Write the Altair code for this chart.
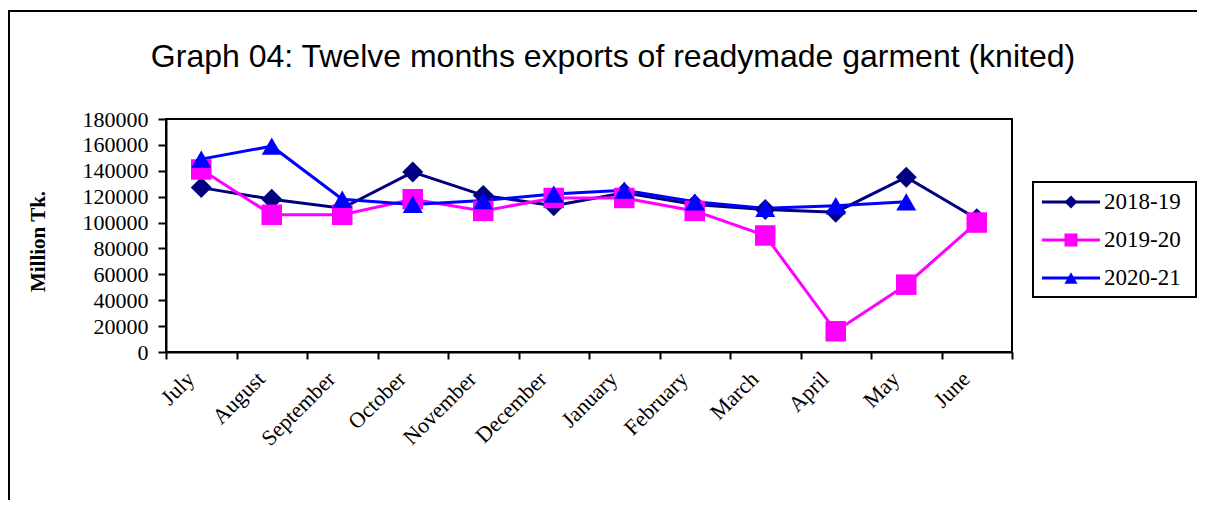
import altair as alt
import pandas as pd

# ---- data ----
months = ["July", "August", "September", "October", "November", "December",
          "January", "February", "March", "April", "May", "June"]
series_names = ["2018-19", "2019-20", "2020-21"]
v_2018_19 = [127000, 118000, 111000, 139000, 121000, 113000,
             123000, 114000, 110000, 108000, 135000, 103000]
v_2019_20 = [141000, 106000, 106000, 118000, 109000, 119000,
             119000, 109000, 90000, 16000, 52000, 100000]
v_2020_21 = [149000, 159000, 118000, 114000, 117000, 122000,
             125000, 116000, 111000, 113000, 116000, None]
y_ticks = [0, 20000, 40000, 60000, 80000, 100000, 120000, 140000, 160000, 180000]
title_text = "Graph 04: Twelve months exports of readymade garment (knited)"
y_title = "Million Tk."

colors = ["#000080", "#FF00FF", "#0000FF"]
shapes = ["diamond", "square", "triangle-up"]

rows = []
for name, vals in zip(series_names, [v_2018_19, v_2019_20, v_2020_21]):
    for m, v in zip(months, vals):
        if v is not None:
            rows.append({"month": m, "series": name, "value": v})
df = pd.DataFrame(rows)
leg_df = pd.DataFrame({"series": series_names})

SERIF = "Liberation Serif"
SANS = "Liberation Sans"

color_enc = alt.Color("series:N", scale=alt.Scale(domain=series_names, range=colors), legend=None)
shape_enc = alt.Shape("series:N", scale=alt.Scale(domain=series_names, range=shapes), legend=None)

x_enc = alt.X(
    "month:N", sort=months,
    scale=alt.Scale(type="band", domain=months, paddingInner=0, paddingOuter=0),
    axis=alt.Axis(title=None, labelAngle=-45, labelAlign="right", labelBaseline="middle",
                  labelFont=SERIF, labelFontSize=22, labelColor="black",
                  labelPadding=16, labelOffset=-11,
                  tickBand="extent", tickSize=7, tickWidth=2, tickColor="black",
                  domainColor="black", domainWidth=2, grid=False),
)
y_enc = alt.Y(
    "value:Q",
    scale=alt.Scale(domain=[0, 180000], nice=False),
    axis=alt.Axis(values=y_ticks, format="d", labelFont=SERIF, labelFontSize=22,
                  labelColor="black", labelPadding=10, tickSize=8, tickWidth=2,
                  tickColor="black", domainColor="black", domainWidth=2, grid=False,
                  title=y_title, titleFont=SERIF, titleFontSize=21, titleFontWeight="bold",
                  titleColor="black", titleAngle=-90, titleX=-128, titleY=122,
                  titleAlign="center", titleBaseline="middle"),
)

base = alt.Chart(df)
lines = base.mark_line(strokeWidth=3).encode(x=x_enc, y=y_enc, color=color_enc, detail="series:N")
points = base.mark_point(filled=True, opacity=1).encode(
    x=x_enc, y=y_enc, color=color_enc, shape=shape_enc,
    size=alt.Size("series:N", scale=alt.Scale(domain=series_names, range=[440, 400, 560]), legend=None),
)
main = alt.layer(lines, points)

one = alt.Chart(leg_df.head(1))

# chart title (drawn as text so the outer frame does not push it away)
title = one.mark_text(text=title_text, font=SANS, fontSize=32, color="black",
                      align="center", baseline="alphabetic").encode(
    x=alt.value(447), y=alt.value(-52))

# outer frame: only its top and left edges are inside the picture (thin filled bands)
frame_top = one.mark_rect(fill="black", strokeWidth=0).encode(
    x=alt.value(-158), x2=alt.value(1031), y=alt.value(-109), y2=alt.value(-107))
frame_left = one.mark_rect(fill="black", strokeWidth=0).encode(
    x=alt.value(-158), x2=alt.value(-156), y=alt.value(-109), y2=alt.value(381))

# legend
leg_y = alt.Y("series:N", scale=alt.Scale(type="point", domain=series_names, range=[83, 159], padding=0), axis=None)
box = one.mark_rect(fill="white", stroke="black", strokeWidth=2).encode(
    x=alt.value(867), x2=alt.value(1030), y=alt.value(63), y2=alt.value(178))
lchart = alt.Chart(leg_df)
lrule = lchart.mark_rule(strokeWidth=3).encode(x=alt.value(876), x2=alt.value(934), y=leg_y, color=color_enc)
lpts = lchart.mark_point(filled=True, opacity=1, size=170).encode(x=alt.value(905), y=leg_y, color=color_enc, shape=shape_enc)
ltxt = lchart.mark_text(align="left", baseline="middle", font=SERIF, fontSize=23, color="black").encode(
    x=alt.value(938), y=leg_y, text="series:N")
legend = alt.layer(title, frame_top, frame_left, box, lrule, lpts, ltxt)

chart = alt.layer(main, legend).resolve_scale(y="independent").properties(
    width=846, height=233,
    autosize=alt.AutoSizeParams(type="none"),
    padding={"left": 158, "top": 111, "right": 185, "bottom": 148},
    background="white",
).configure_view(stroke="black", strokeWidth=2)

chart.save("out.html", embed_options={"renderer": "svg", "actions": False})
